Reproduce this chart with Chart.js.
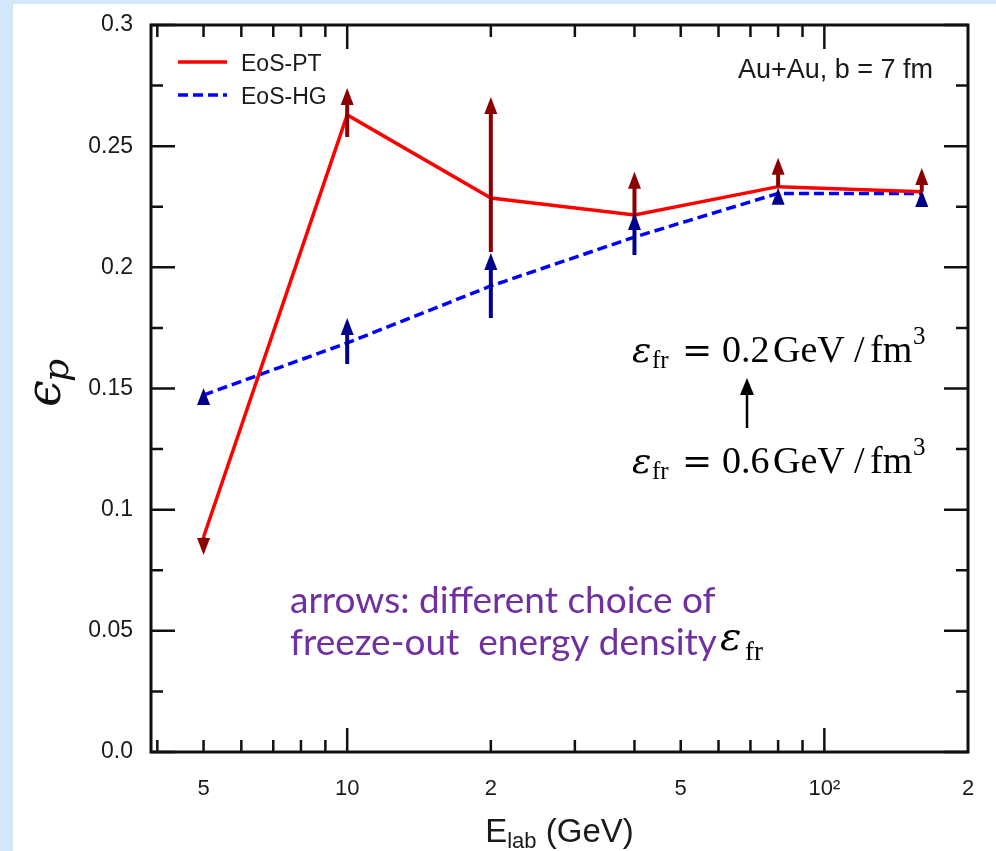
<!DOCTYPE html>
<html>
<head>
<meta charset="utf-8">
<script src="https://cdn.jsdelivr.net/npm/chart.js@4.4.1/dist/chart.umd.min.js"></script>
<style>
    html, body { margin: 0; padding: 0; width: 996px; height: 851px; overflow: hidden; background: #d4e6fa; }
    #panel { position: absolute; left: 13px; top: 4px; width: 983px; height: 847px; background: #fff; }
</style>
</head>
<body>
<div id="panel"><canvas id="epsChart" width="983" height="847"></canvas></div>
<script>
// beam energies (GeV) of the Au+Au runs
var energies = [5, 10, 20, 40, 80, 160];

// momentum anisotropy for both equations of state
var ptValues = [0.0887, 0.2629, 0.2286, 0.2216, 0.2333, 0.2312];
var hgValues = [0.1473, 0.1688, 0.1923, 0.2125, 0.2305, 0.2305];

// arrows: tail at eps_fr = 0.6, head at eps_fr = 0.2 GeV/fm^3
var ptArrowFrom = [0.0887, 0.2538, 0.2063, 0.2190, 0.2332, 0.2312];
var ptArrowTo = [0.0813, 0.2740, 0.2703, 0.2394, 0.2452, 0.2410];
var hgArrowFrom = [0.1445, 0.1601, 0.1791, 0.2051, 0.2262, 0.2262];
var hgArrowTo = [0.1502, 0.1791, 0.2059, 0.2224, 0.2328, 0.2319];

var xTickValues = [5, 10, 20, 50, 100, 200];
var xTickLabels = ['5', '10', '2', '5', '10\u00b2', '2'];
var xMinorTicks = [4, 5, 6, 7, 8, 9, 20, 30, 40, 50, 60, 70, 80, 90];
var xMajorTicks = [10, 100];

var yTickValues = [0, 0.05, 0.1, 0.15, 0.2, 0.25, 0.3];
var yTickLabels = ['0.0', '0.05', '0.1', '0.15', '0.2', '0.25', '0.3'];
var yMinorTicks = [0.025, 0.075, 0.125, 0.175, 0.225, 0.275];

var ptColor = '#ff0000';
var hgColor = '#0000ff';
var ptArrowColor = '#8b0000';
var hgArrowColor = '#00008b';
var sansFont = '"Liberation Sans", Arial, sans-serif';
var serifFont = '"Liberation Serif", "Times New Roman", serif';
var mathFont = '"DejaVu Serif", serif';

function toPoints(values) {
    return energies.map(function (e, i) { return { x: e, y: values[i] }; });
}

// vertical arrow from tail value to tip value at energy e
function drawArrow(ctx, xScale, yScale, e, from, to, color) {
    var x = xScale.getPixelForValue(e);
    var y0 = yScale.getPixelForValue(from);
    var y1 = yScale.getPixelForValue(to);
    var dir = y1 > y0 ? 1 : -1;
    var headLen = 17, headHalf = 6.5;
    var base = y1 - dir * headLen;
    ctx.save();
    ctx.strokeStyle = color;
    ctx.fillStyle = color;
    if (Math.abs(y1 - y0) > headLen) {
        ctx.lineWidth = 4;
        ctx.beginPath();
        ctx.moveTo(x, y0);
        ctx.lineTo(x, base + dir);
        ctx.stroke();
    }
    ctx.beginPath();
    ctx.moveTo(x, y1);
    ctx.lineTo(x - headHalf, base);
    ctx.lineTo(x + headHalf, base);
    ctx.closePath();
    ctx.fill();
    ctx.restore();
}

// draws a run of text pieces: [text, font, dx, dy]
function drawPieces(ctx, x, y, pieces, color) {
    ctx.save();
    ctx.fillStyle = color;
    ctx.textBaseline = 'alphabetic';
    ctx.textAlign = 'left';
    pieces.forEach(function (p) {
        ctx.font = p[1];
        ctx.fillText(p[0], x + p[2], y + p[3]);
    });
    ctx.restore();
}

var frameAndMarks = {
    id: 'frameAndMarks',
    afterDatasetsDraw: function (chart) {
        var ctx = chart.ctx;
        var a = chart.chartArea;
        var xs = chart.scales.x;
        var ys = chart.scales.y;

        // arrows
        energies.forEach(function (e, i) {
            drawArrow(ctx, xs, ys, e, ptArrowFrom[i], ptArrowTo[i], ptArrowColor);
        });
        energies.forEach(function (e, i) {
            drawArrow(ctx, xs, ys, e, hgArrowFrom[i], hgArrowTo[i], hgArrowColor);
        });

        ctx.save();
        ctx.strokeStyle = '#111';
        ctx.lineWidth = 2.5;

        // inward ticks on all four sides
        ctx.beginPath();
        function xTick(v, len) {
            var px = xs.getPixelForValue(v);
            ctx.moveTo(px, a.bottom); ctx.lineTo(px, a.bottom - len);
            ctx.moveTo(px, a.top); ctx.lineTo(px, a.top + len);
        }
        function yTick(v, len) {
            var py = ys.getPixelForValue(v);
            ctx.moveTo(a.left, py); ctx.lineTo(a.left + len, py);
            ctx.moveTo(a.right, py); ctx.lineTo(a.right - len, py);
        }
        xMinorTicks.forEach(function (v) { xTick(v, 12); });
        xMajorTicks.forEach(function (v) { xTick(v, 24); });
        yMinorTicks.forEach(function (v) { yTick(v, 12); });
        yTickValues.forEach(function (v) { yTick(v, 24); });
        ctx.stroke();

        ctx.lineWidth = 3;
        ctx.strokeRect(a.left, a.top, a.right - a.left, a.bottom - a.top);
        ctx.restore();

        // legend
        ctx.save();
        ctx.lineWidth = 3.5;
        ctx.strokeStyle = ptColor;
        ctx.beginPath(); ctx.moveTo(165, 58); ctx.lineTo(214, 58); ctx.stroke();
        ctx.strokeStyle = hgColor;
        ctx.setLineDash([10, 5]);
        ctx.beginPath(); ctx.moveTo(165, 91); ctx.lineTo(214, 91); ctx.stroke();
        ctx.restore();
        drawPieces(ctx, 228, 67, [['EoS-PT', '23px ' + sansFont, 0, 0]], '#1a1a1a');
        drawPieces(ctx, 228, 100, [['EoS-HG', '23px ' + sansFont, 0, 0]], '#1a1a1a');

        ctx.save();
        ctx.fillStyle = '#1a1a1a';
        ctx.font = '27px ' + sansFont;
        ctx.textAlign = 'right';
        ctx.fillText('Au+Au, b = 7 fm', 920, 74);
        ctx.restore();

        // freeze-out energy density labels
        [['0.2', 358], ['0.6', 469]].forEach(function (row) {
            drawPieces(ctx, 619, row[1], [
                ['\u03b5', 'italic 36px ' + mathFont, 0, 0],
                ['fr', '25px ' + serifFont, 20, 6],
                ['=', '36px ' + mathFont, 50, 0],
                [row[0], '38px ' + serifFont, 90, 0],
                ['GeV', '38px ' + serifFont, 141, 0],
                ['/', '38px ' + serifFont, 222, 0],
                ['fm', '38px ' + serifFont, 238, 0],
                ['3', '25px ' + serifFont, 281, -18]
            ], '#000');
        });
        ctx.save();
        ctx.strokeStyle = '#000';
        ctx.fillStyle = '#000';
        ctx.lineWidth = 2.5;
        ctx.beginPath(); ctx.moveTo(734, 424); ctx.lineTo(734, 388); ctx.stroke();
        ctx.beginPath(); ctx.moveTo(734, 374); ctx.lineTo(727, 391); ctx.lineTo(741, 391); ctx.closePath(); ctx.fill();
        ctx.restore();

        drawPieces(ctx, 277, 609, [['arrows: different choice of', '37px Lato, sans-serif', 0, 0]], '#7030a0');
        drawPieces(ctx, 277, 651, [['freeze-out  energy density', '37px Lato, sans-serif', 0, 0]], '#7030a0');
        drawPieces(ctx, 707, 646, [
            ['\u03b5', 'italic 40px ' + mathFont, 0, 0],
            ['fr', '27px ' + serifFont, 25, 10]
        ], '#000');

        // axis titles
        ctx.save();
        ctx.fillStyle = '#1a1a1a';
        ctx.font = '33px ' + sansFont;
        var wE = ctx.measureText('E').width;
        ctx.font = '22px ' + sansFont;
        var wLab = ctx.measureText('lab').width;
        ctx.font = '33px ' + sansFont;
        var wRest = ctx.measureText(' (GeV)').width;
        var x0 = (a.left + a.right) / 2 - (wE + wLab + wRest) / 2;
        ctx.fillText('E', x0, 838);
        ctx.font = '22px ' + sansFont;
        ctx.fillText('lab', x0 + wE, 844);
        ctx.font = '33px ' + sansFont;
        ctx.fillText(' (GeV)', x0 + wE + wLab, 838);
        ctx.restore();

        ctx.save();
        ctx.translate(47, 403);
        ctx.rotate(-Math.PI / 2);
        ctx.fillStyle = '#111';
        ctx.font = 'italic 48px ' + mathFont;
        ctx.fillText('\u03f5', 0, 0);
        var wEps = ctx.measureText('\u03f5').width;
        ctx.font = 'italic 36px ' + mathFont;
        ctx.fillText('p', wEps - 2, 8);
        ctx.restore();
    }
};

new Chart(document.getElementById('epsChart'), {
    type: 'line',
    data: {
        datasets: [{
            label: 'EoS-PT',
            data: toPoints(ptValues),
            borderColor: ptColor,
            borderWidth: 3.5,
            pointRadius: 0,
            tension: 0
        }, {
            label: 'EoS-HG',
            data: toPoints(hgValues),
            borderColor: hgColor,
            borderWidth: 3.5,
            borderDash: [10, 5],
            pointRadius: 0,
            tension: 0
        }]
    },
    options: {
        responsive: false,
        animation: false,
        layout: { padding: { top: 21, right: 28, left: 0, bottom: 0 } },
        plugins: {
            legend: { display: false },
            tooltip: { enabled: false }
        },
        scales: {
            x: {
                type: 'logarithmic',
                min: 3.88,
                max: 200,
                grid: { display: false, drawTicks: false },
                border: { display: false },
                afterBuildTicks: function (scale) {
                    scale.ticks = xTickValues.map(function (v) { return { value: v }; });
                },
                afterFit: function (scale) {
                    scale.height = 99;
                    scale.paddingLeft = 0;
                    scale.paddingRight = 0;
                },
                ticks: {
                    autoSkip: false,
                    maxRotation: 0,
                    padding: 24,
                    color: '#1a1a1a',
                    font: { family: sansFont, size: 22 },
                    callback: function (value, index) { return xTickLabels[index]; }
                }
            },
            y: {
                min: 0,
                max: 0.3,
                grid: { display: false, drawTicks: false },
                border: { display: false },
                afterBuildTicks: function (scale) {
                    scale.ticks = yTickValues.map(function (v) { return { value: v }; });
                },
                afterFit: function (scale) {
                    scale.width = 138;
                    scale.paddingTop = 0;
                    scale.paddingBottom = 0;
                },
                ticks: {
                    padding: 18,
                    color: '#1a1a1a',
                    font: { family: sansFont, size: 23 },
                    callback: function (value, index) { return yTickLabels[index]; }
                }
            }
        }
    },
    plugins: [frameAndMarks]
});
</script>
</body>
</html>
